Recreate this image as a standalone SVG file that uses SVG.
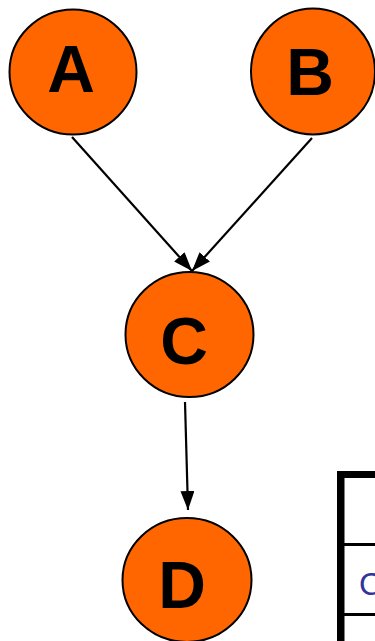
<svg xmlns="http://www.w3.org/2000/svg" width="375" height="641" viewBox="0 0 375 641">
<style>
.node{fill:#ff6600;stroke:#000;stroke-width:2}
.lbl{font-family:"Liberation Sans",Arial,sans-serif;font-weight:bold;font-size:66px;fill:#000;text-anchor:middle}
.edge{stroke:#000;stroke-width:2.2;fill:none;marker-end:url(#ah)}
</style>
<defs>
<marker id="ah" markerUnits="userSpaceOnUse" markerWidth="20" markerHeight="14" refX="19" refY="7" orient="auto">
<path d="M0,0 L19,7 L0,14 Z" fill="#000"/>
</marker>
</defs>
<rect width="375" height="641" fill="#fff"/>
<g id="edges">
<line class="edge" x1="72" y1="137" x2="192" y2="271"/>
<line class="edge" x1="312" y1="138" x2="192" y2="271"/>
<line class="edge" x1="185" y1="402" x2="188" y2="510"/>
</g>
<g id="A"><ellipse class="node" cx="73" cy="72" rx="63.5" ry="62.5"/><text class="lbl" x="71" y="92">A</text></g>
<g id="B"><ellipse class="node" cx="313" cy="71.5" rx="62" ry="63"/><text class="lbl" x="310" y="95">B</text></g>
<g id="C"><ellipse class="node" cx="189.5" cy="334.5" rx="64" ry="62.5"/><text class="lbl" x="184" y="364">C</text></g>
<g id="D"><ellipse class="node" cx="187" cy="580" rx="64.5" ry="62"/><text class="lbl" x="182" y="608">D</text></g>
<g id="table">
<rect x="337" y="471" width="7.5" height="170" fill="#000"/>
<rect x="337" y="471" width="38" height="7" fill="#000"/>
<rect x="344" y="543" width="31" height="3" fill="#000"/>
<rect x="344" y="613" width="31" height="3" fill="#000"/>
<text x="359" y="595" font-family="'Liberation Sans',Arial,sans-serif" font-size="32" fill="#333399">C</text>
</g>
</svg>
